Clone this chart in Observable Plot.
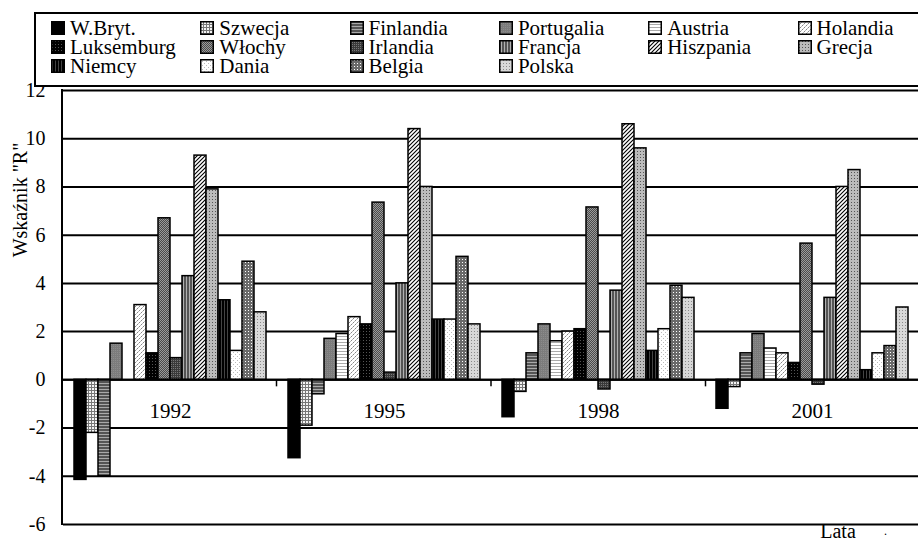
<!DOCTYPE html>
<html>
<head>
<meta charset="utf-8">
<script src="https://cdn.jsdelivr.net/npm/d3@7"></script>
<script src="https://cdn.jsdelivr.net/npm/@observablehq/plot@0.6"></script>
<style>
  html, body { margin: 0; padding: 0; background: white; overflow: hidden; }
  #wrap { position: relative; width: 918px; height: 542px; overflow: hidden; font-family: "Liberation Serif", "Times New Roman", serif; color: black; }
  #wrap svg.plotsvg { position: absolute; left: 0; top: 0; }
  #legend { position: absolute; left: 34px; top: 12px; width: 900px; height: 71px; border: 2px solid black; background: white; }
  .item { position: absolute; font-family: "Liberation Serif", "Times New Roman", serif; font-size: 21px; line-height: 18px; white-space: nowrap; }
  .sw { position: absolute; width: 14px; height: 14px; }
  .abs { position: absolute; font-family: "Liberation Serif", "Times New Roman", serif; font-size: 20px; line-height: 16px; white-space: nowrap; }
</style>
</head>
<body>
<div id="wrap"></div>
<script>
// ---- data ----
const years = [1992, 1995, 1998, 2001];
const countries = ["W.Bryt.", "Szwecja", "Finlandia", "Portugalia", "Austria", "Holandia",
  "Luksemburg", "Włochy", "Irlandia", "Francja", "Hiszpania", "Grecja",
  "Niemcy", "Dania", "Belgia", "Polska"];
const v1992 = [-4.15, -2.2, -4.0, 1.5, null, 3.1, 1.1, 6.7, 0.9, 4.3, 9.3, 7.9, 3.3, 1.2, 4.9, 2.8];
const v1995 = [-3.25, -1.9, -0.6, 1.7, 1.9, 2.6, 2.3, 7.35, 0.3, 4.0, 10.4, 8.0, 2.5, 2.5, 5.1, 2.3];
const v1998 = [-1.55, -0.5, 1.1, 2.3, 1.6, 2.0, 2.1, 7.15, -0.4, 3.7, 10.6, 9.6, 1.2, 2.1, 3.9, 3.4];
const v2001 = [-1.2, -0.3, 1.1, 1.9, 1.3, 1.1, 0.7, 5.65, -0.2, 3.4, 8.0, 8.7, 0.4, 1.1, 1.4, 3.0];
const yTicks = [-6, -4, -2, 0, 2, 4, 6, 8, 10, 12];
const yTitle = 'Wskaźnik "R"';
const xTitle = "Lata";

const series = {1992: v1992, 1995: v1995, 1998: v1998, 2001: v2001};
const rows = [];
for (const yr of years) {
  series[yr].forEach((v, i) => { if (v != null) rows.push({year: yr, country: countries[i], value: v}); });
}

// ---- patterns (grayscale fills like the original) ----
const patterns = [
  {w: 2, h: 2, bg: "#000", px: []},
  {w: 3, h: 3, bg: "#f4f4f4", px: [[0,0,3,1,"#777"],[0,0,1,3,"#777"]]},
  {w: 3, h: 3, bg: "#555", px: [[0,2,3,1,"#aaa"]]},
  {w: 2, h: 2, bg: "#7c7c7c", px: [[0,0,1,1,"#8c8c8c"]]},
  {w: 3, h: 3, bg: "#fff", px: [[0,0,3,1,"#aaa"]]},
  {w: 4, h: 4, bg: "#fff", px: [[0,0,1,1,"#888"],[2,2,1,1,"#888"],[1,3,1,1,"#bbb"],[3,1,1,1,"#bbb"]]},
  {w: 3, h: 3, bg: "#000", px: [[1,1,1,1,"#555"]]},
  {w: 2, h: 2, bg: "#9a9a9a", px: [[0,0,1,1,"#4a4a4a"],[1,1,1,1,"#4a4a4a"]]},
  {w: 2, h: 2, bg: "#3a3a3a", px: [[0,0,1,1,"#777"]]},
  {w: 3, h: 3, bg: "#555", px: [[2,0,1,3,"#b0b0b0"]]},
  {w: 4, h: 4, bg: "#fff", diag: true},
  {w: 3, h: 3, bg: "#bcbcbc", px: [[1,1,1,1,"#555"]]},
  {w: 3, h: 3, bg: "#000", px: [[1,0,1,3,"#444"]]},
  {w: 4, h: 4, bg: "#fff", px: [[0,0,1,1,"#bbb"],[2,2,1,1,"#bbb"]]},
  {w: 3, h: 3, bg: "#6a6a6a", px: [[1,1,1,1,"#fff"]]},
  {w: 3, h: 3, bg: "#d8d8d8", px: [[1,1,1,1,"#8a8a8a"]]}
];
const patternIds = patterns.map((p, i) => "pat" + i);

const defsSvg = d3.select("body").append("svg")
  .attr("width", 0).attr("height", 0)
  .style("position", "absolute").style("left", 0).style("top", 0);
const defs = defsSvg.append("defs");
patterns.forEach((p, i) => {
  const pat = defs.append("pattern").attr("id", patternIds[i])
    .attr("patternUnits", "userSpaceOnUse").attr("width", p.w).attr("height", p.h);
  pat.append("rect").attr("width", p.w).attr("height", p.h).attr("fill", p.bg).attr("shape-rendering", "crispEdges");
  (p.px || []).forEach(([x, y, w, h, c]) => pat.append("rect").attr("x", x).attr("y", y).attr("width", w).attr("height", h).attr("fill", c).attr("shape-rendering", "crispEdges"));
  if (p.diag) {
    pat.append("path").attr("d", "M0,4L4,0M-1,1L1,-1M3,5L5,3").attr("stroke", "#000").attr("stroke-width", 1.1);
  }
});

// ---- chart ----
const plot = Plot.plot({
  width: 920,
  height: 542,
  marginLeft: 62,
  marginRight: 0,
  marginTop: 90,
  marginBottom: 18,
  style: {
    fontFamily: '"Liberation Serif", "Times New Roman", serif',
    fontSize: "20px",
    color: "black",
    background: "transparent",
    maxWidth: "none",
    overflow: "visible"
  },
  fx: {domain: years, padding: 0, axis: null},
  x: {domain: countries, paddingInner: 0, paddingOuter: 0.6, axis: null},
  y: {domain: [-6, 12], ticks: yTicks, tickSize: 0, tickPadding: 18, tickFormat: d => String(d), label: null},
  color: {domain: countries, range: patternIds.map(id => `url(#${id})`)},
  marks: [
    Plot.ruleY(yTicks, {stroke: "black", strokeWidth: 2}),
    Plot.barY(rows, {fx: "year", x: "country", y: "value", fill: "country", stroke: "black", strokeWidth: 1.5}),
    Plot.ruleY([0], {stroke: "black", strokeWidth: 2}),
    Plot.text(years, {fx: d => d, y: 0, text: d => String(d), dy: 31, fontSize: 21, fill: "black"})
  ]
});
plot.classList.add("plotsvg");
document.getElementById("wrap").appendChild(plot);

// left axis line and category tick marks at group boundaries, from the plot's own scales
(function () {
  const yS = plot.scale("y");
  const y = d3.scaleLinear(yS.domain, yS.range);
  let x0 = 62, x1 = 920, n = years.length;
  try {
    const fxS = plot.scale("fx");
    if (fxS && fxS.range) { x0 = fxS.range[0]; x1 = fxS.range[1]; n = fxS.domain.length; }
  } catch (e) {}
  const step = (x1 - x0) / n;
  const g = d3.select(plot).append("g");
  g.append("line").attr("x1", x0).attr("x2", x0).attr("y1", y(12) - 1).attr("y2", y(-6) + 1)
    .attr("stroke", "black").attr("stroke-width", 2);
  for (let k = 1; k <= n; k++) {
    g.append("line").attr("x1", x0 + k * step).attr("x2", x0 + k * step)
      .attr("y1", y(0)).attr("y2", y(0) + 7).attr("stroke", "black").attr("stroke-width", 1.5);
  }
})();

// ---- legend (HTML) ----
const legend = d3.select("#wrap").append("div").attr("id", "legend");
countries.forEach((c, i) => {
  const col = i % 6, row = Math.floor(i / 6);
  const left = 15 + col * 149.3;
  const top = 7 + row * 19;
  const sw = legend.append("svg").attr("class", "sw")
    .style("left", left + "px").style("top", top + "px")
    .attr("width", 14).attr("height", 14);
  sw.append("rect").attr("x", 0.75).attr("y", 0.75).attr("width", 12.5).attr("height", 12.5)
    .attr("fill", `url(#${patternIds[i]})`).attr("stroke", "black").attr("stroke-width", 1.5);
  legend.append("div").attr("class", "item")
    .style("left", (left + 19) + "px").style("top", (top - 2.1) + "px")
    .text(c);
});

// ---- axis titles ----
d3.select("#wrap").append("div").attr("class", "abs")
  .style("left", "20px").style("top", "200px")
  .style("transform", "translate(-50%, -50%) rotate(-90deg)")
  .text(yTitle);
d3.select("#wrap").append("div").attr("class", "abs")
  .style("left", "838px").style("top", "522.5px")
  .style("transform", "translateX(-50%)")
  .text(xTitle);
d3.select("#wrap").append("div").attr("class", "abs")
  .style("left", "884px").style("top", "525px").style("font-size", "12px").style("line-height", "12px")
  .text(".");
</script>
</body>
</html>
